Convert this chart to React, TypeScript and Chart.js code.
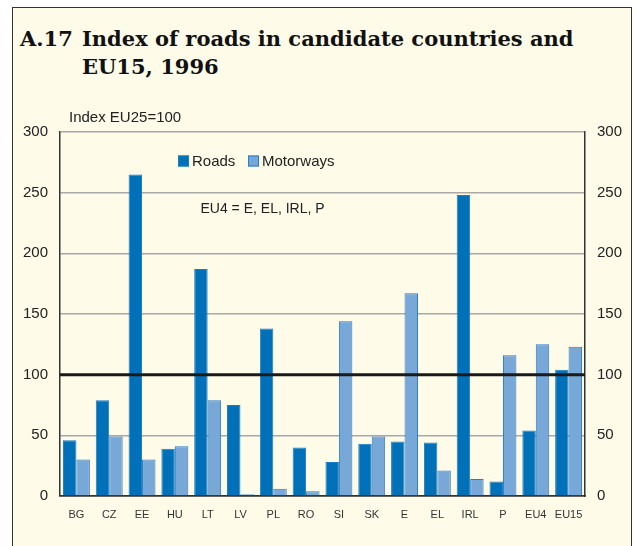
import React, { useEffect, useRef } from "react";
import { Chart, registerables } from "chart.js";

Chart.register(...registerables);

const categories = ["BG", "CZ", "EE", "HU", "LT", "LV", "PL", "RO", "SI", "SK", "E", "EL", "IRL", "P", "EU4", "EU15"];
const roads = [46, 79, 265, 39, 187, 75, 138, 40, 28, 43, 45, 44, 248, 12, 54, 104];
const motorways = [30, 49, 30, 41, 79, 1.5, 6, 4, 144, 49, 167, 21, 14, 116, 125, 123];
const seriesNames = ["Roads", "Motorways"];
const yTicks = [0, 50, 100, 150, 200, 250, 300];
const referenceValue = 100;
const axisTitle = "Index EU25=100";
const noteText = "EU4 = E, EL, IRL, P";
const titleNumber = "A.17";
const titleLines = ["Index of roads in candidate countries and", "EU15, 1996"];

const ROADS_COLOR = "#0070b8";
const ROADS_BORDER = "#1a7cc2";
const MW_COLOR = "#78a8d8";
const MW_BORDER = "#2a7cc4";
const FONT = "'Liberation Sans', Arial, sans-serif";

const overlayPlugin = {
  id: "overlay",
  afterDatasetsDraw(chart: any) {
    const { ctx, chartArea, scales } = chart;
    const y = scales.y.getPixelForValue(referenceValue);
    ctx.save();
    ctx.strokeStyle = "#1a1a1a";
    ctx.lineWidth = 3;
    ctx.beginPath();
    ctx.moveTo(chartArea.left, y);
    ctx.lineTo(chartArea.right, y);
    ctx.stroke();
    ctx.restore();
  },
  afterDraw(chart: any) {
    const { ctx } = chart;
    ctx.save();
    ctx.fillStyle = "#222";
    ctx.textBaseline = "middle";
    ctx.textAlign = "left";
    ctx.font = `15px ${FONT}`;
    ctx.fillText(axisTitle, 69, 118);
    const items = [
      { label: seriesNames[0], fill: ROADS_COLOR, border: ROADS_BORDER, x: 178 },
      { label: seriesNames[1], fill: MW_COLOR, border: MW_BORDER, x: 248 },
    ];
    items.forEach((it) => {
      ctx.fillStyle = it.fill;
      ctx.fillRect(it.x, 155.5, 11, 11);
      ctx.strokeStyle = it.border;
      ctx.lineWidth = 1;
      ctx.strokeRect(it.x + 0.5, 156, 10, 10);
      ctx.fillStyle = "#222";
      ctx.font = `15px ${FONT}`;
      ctx.fillText(it.label, it.x + 14, 161.5);
    });
    ctx.font = `14px ${FONT}`;
    ctx.fillText(noteText, 200.5, 209);
    ctx.restore();
  },
};

export default function App() {
  const ref = useRef<HTMLCanvasElement | null>(null);
  useEffect(() => {
    document.body.style.margin = "0";
    const canvas = ref.current;
    if (!canvas) return;
    const gridColor = (c: any) => {
      const v = c.tick ? c.tick.value : null;
      if (v === 0) return "#333";
      if (v === referenceValue) return "#1a1a1a";
      return "#a8a8a8";
    };
    const chart = new Chart(canvas, {
      type: "bar",
      data: {
        labels: categories,
        datasets: [
          {
            label: seriesNames[0],
            data: roads,
            backgroundColor: ROADS_COLOR,
            borderColor: ROADS_BORDER,
            borderWidth: 1,
            categoryPercentage: 0.82,
            barPercentage: 1,
            yAxisID: "y",
          },
          {
            label: seriesNames[1],
            data: motorways,
            backgroundColor: MW_COLOR,
            borderColor: MW_BORDER,
            borderWidth: 1,
            categoryPercentage: 0.82,
            barPercentage: 1,
            yAxisID: "y",
          },
        ],
      },
      options: {
        animation: false,
        responsive: false,
        maintainAspectRatio: false,
        layout: { padding: { top: 132, bottom: 0, left: 0, right: 0 } },
        plugins: { legend: { display: false }, tooltip: { enabled: false }, title: { display: false } },
        scales: {
          x: {
            grid: { display: false, drawTicks: false },
            border: { display: true, color: "#333", width: 1.5 },
            ticks: { color: "#333", font: { family: FONT, size: 11 }, padding: 12, maxRotation: 0, autoSkip: false },
            afterFit: (s: any) => { s.height = 50; },
          },
          y: {
            position: "left",
            min: 0,
            max: 300,
            afterBuildTicks: (s: any) => { s.ticks = yTicks.map((v) => ({ value: v })); },
            grid: { color: gridColor, lineWidth: 1.5, drawTicks: false },
            border: { display: true, color: "#333", width: 1.5 },
            ticks: { color: "#222", font: { family: FONT, size: 15 }, padding: 12 },
            afterFit: (s: any) => { s.width = 60; },
          },
          y2: {
            position: "right",
            min: 0,
            max: 300,
            afterBuildTicks: (s: any) => { s.ticks = yTicks.map((v) => ({ value: v })); },
            grid: { display: false, drawTicks: false },
            border: { display: true, color: "#333", width: 1.5 },
            ticks: { color: "#222", font: { family: FONT, size: 15 }, padding: 12 },
            afterFit: (s: any) => { s.width = 54; },
          },
        },
      },
      plugins: [overlayPlugin],
    } as any);
    return () => chart.destroy();
  }, []);

  const titleFont = "'DejaVu Serif', 'Liberation Serif', serif";
  const titleStyle: any = { position: "absolute", top: 25, fontFamily: titleFont, fontWeight: "bold", fontSize: 21, lineHeight: "28px", color: "#111", whiteSpace: "nowrap" };
  return (
    <div style={{ position: "absolute", left: 0, top: 0, width: 639, height: 546, overflow: "hidden", background: "#fff" }}>
      <div
        style={{
          position: "absolute",
          left: 12,
          top: 7,
          width: 618,
          height: 600,
          border: "1.5px solid #333",
          background: "#fffbe9",
        }}
      />
      <div style={{ ...titleStyle, left: 20 }}>{titleNumber}</div>
      <div style={{ ...titleStyle, left: 82 }}>
        {titleLines[0]}
        <br />
        {titleLines[1]}
      </div>
      <canvas ref={ref} width={639} height={546} style={{ position: "absolute", left: 0, top: 0 }} />
    </div>
  );
}
